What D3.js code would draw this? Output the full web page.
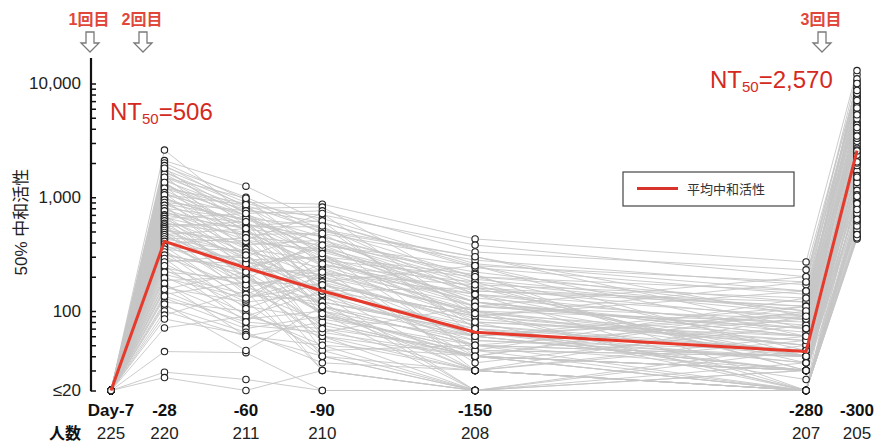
<!DOCTYPE html>
<html><head><meta charset="utf-8">
<script src="https://cdn.jsdelivr.net/npm/d3@7"></script>
<style>
body{margin:0;background:#fff;}
svg{display:block;font-family:"Liberation Sans",Arial,"Noto Sans CJK JP",sans-serif;}
</style></head>
<body><svg id="chart" width="875" height="444"></svg>
<script>
const days = [7, 28, 60, 90, 150, 280, 300];
const dayLabels = ["Day-7", "-28", "-60", "-90", "-150", "-280", "-300"];
const counts = [225, 220, 211, 210, 208, 207, 205];
const meanValues = [20, 410, 239, 150, 65, 44, 2570];
const yTickValues = [20, 100, 1000, 10000];
const yTickLabels = ["≤20", "100", "1,000", "10,000"];
const doseLabels = ["1回目", "2回目", "3回目"];
const nt50Labels = ["506", "2,570"];
// individual subjects: values at Day -28, -60, -90, -150, -280, -300 (Day-7 is ≤20 for all)
const subjects = [
[2600,700,450,200,120,9000],[2100,1250,600,250,180,12000],[1750,900,870,430,270,13000],
[1650,850,500,300,90,6000],[1550,400,350,120,60,4000],[1500,800,820,150,110,10500],
[1450,600,300,90,50,2500],[1400,750,700,380,200,8000],[1350,500,250,100,40,3000],
[1300,650,400,170,130,7000],[1250,350,200,60,30,1500],[1200,880,650,260,150,5500],
[1150,550,550,140,70,3500],[1100,300,180,80,55,2000],[1050,700,280,110,85,4500],
[1000,450,380,220,100,11000],[950,620,150,70,45,1200],[900,380,420,180,95,6500],
[860,520,220,95,60,2800],[820,280,300,130,75,3800],[780,480,160,50,30,900],
[750,420,330,150,120,7500],[720,600,190,75,40,1800],[690,250,120,65,35,1400],
[660,460,260,140,90,5000],[640,330,240,85,50,2200],[610,200,100,40,20,700],
[580,560,280,120,65,3200],[560,300,140,55,45,2600],[540,240,210,100,80,4200],
[520,380,130,60,30,1100],[500,180,170,90,55,2400],[480,320,90,45,20,600],
[460,220,230,110,70,3600],[440,400,110,50,40,1600],[420,150,80,40,30,800],
[400,270,190,80,60,2900],[380,190,120,70,35,1300],[360,340,150,30,20,500],
[340,130,200,100,50,2700],[320,210,70,45,40,1000],[300,160,110,60,30,1900],
[280,260,95,40,20,650],[260,120,140,75,45,2100],[240,170,60,30,20,450],
[230,110,85,50,40,1700],[210,140,120,65,30,2300],[200,95,50,20,20,550],
[185,200,75,40,30,1250],[170,85,100,55,40,3100],[160,120,40,20,20,480],
[150,75,65,40,30,950],[140,180,55,30,20,850],[130,70,90,45,40,1450],
[120,100,45,20,20,430],[110,65,35,30,20,750],[100,60,80,40,30,1150],
[92,150,30,20,20,520],[85,62,40,30,20,680],[71,90,60,40,30,900],
[44,43,20,20,20,600],[29,25,20,20,20,460],[26,20,30,20,20,440],
[1850,1000,520,200,150,8500],[1700,720,760,330,230,9800],[2000,950,480,280,170,7800],
[1600,680,340,160,110,5800],[1250,780,600,240,140,6800],[980,580,450,190,100,5200],
[880,640,360,160,85,4600],
[1900,820,380,120,40,6200],[1800,560,620,60,95,7400],[1500,980,300,210,20,3300],
[1350,420,720,90,150,9200],[1200,700,180,250,60,4400],[1100,520,460,40,110,8200],
[1050,860,250,180,30,2600],[950,300,520,300,70,5600],[900,760,140,20,50,1700],
[850,240,360,110,200,10000],[800,650,560,70,25,1900],[760,350,280,200,45,3700],
[700,530,100,30,90,4900],[680,190,420,140,20,1350],[650,720,320,45,130,6300],
[620,280,150,160,35,2200],[590,470,480,100,20,1050],[570,160,230,35,75,3900],
[550,610,90,60,110,7100],[530,230,380,250,40,2000],[510,410,60,20,30,560],
[490,140,260,120,60,4300],[470,530,170,90,180,8700],[450,260,300,30,20,620],
[430,330,45,50,85,3300],[410,170,210,170,30,1550],[390,440,120,20,45,2350],
[370,125,320,80,20,720],[350,290,65,110,70,5300],[330,105,180,40,100,6100],
[310,230,40,20,35,880],[290,90,150,95,20,1020],[270,310,110,30,55,2550],
[250,80,220,140,40,3450],[220,190,30,20,20,470],[195,130,170,60,90,4100],
[175,60,50,40,20,640],[155,220,95,20,30,1500],[135,80,70,30,60,2050],
[115,45,110,50,20,780]
];

const svg = d3.select("#chart");
const x = d3.scaleLinear().domain([7, 300]).range([111, 857]);
const y = d3.scaleLog().domain([20, 10000]).range([390.5, 83.5]);

// individual lines
const line = d3.line().x((d, i) => x(days[i])).y(d => y(d));
const series = subjects.map(s => [20].concat(s));
svg.append("g").selectAll("path").data(series).join("path")
  .attr("d", line).attr("fill", "none").attr("stroke", "#c6c6c6").attr("stroke-width", 0.9);

// dots
const pts = [];
series.forEach(s => s.forEach((v, i) => pts.push({d: days[i], v})));
svg.append("g").selectAll("circle").data(pts).join("circle")
  .attr("cx", d => x(d.d)).attr("cy", d => y(d.v)).attr("r", 3.2)
  .attr("fill", "#fff").attr("stroke", "#222").attr("stroke-width", 1.1);

// mean line
svg.append("path").datum(meanValues).attr("d", line)
  .attr("fill", "none").attr("stroke", "#e53a2c").attr("stroke-width", 3);

// y axis
const minor = [];
[10, 100, 1000].forEach(b => { for (let k = 1; k <= 9; k++) if (b * k >= 20) minor.push(b * k); });
minor.push(10000);
const yAxis = svg.append("g").attr("transform", "translate(91,0)")
  .call(d3.axisRight(y).tickValues(minor).tickSize(5).tickFormat(""));
yAxis.select(".domain").remove();
yAxis.selectAll(".tick line").attr("stroke", "#111").attr("stroke-width", 1.5);
svg.append("line").attr("x1", 91).attr("x2", 91).attr("y1", 58).attr("y2", 391.2)
  .attr("stroke", "#111").attr("stroke-width", 2.2);
svg.append("g").selectAll("text").data(yTickValues).join("text")
  .attr("x", 81).attr("y", d => y(d)).attr("dy", "0.35em").attr("text-anchor", "end")
  .attr("font-size", 17).attr("fill", "#222").text((d, i) => yTickLabels[i]);
svg.append("text").attr("transform", "translate(27,222) rotate(-90)")
  .attr("text-anchor", "middle").attr("font-size", 17).attr("fill", "#222")
  .text("50% 中和活性");

// x labels
svg.append("g").selectAll("text").data(days).join("text")
  .attr("x", d => x(d)).attr("y", 416).attr("text-anchor", "middle")
  .attr("font-size", 17).attr("font-weight", "bold").attr("fill", "#111")
  .text((d, i) => dayLabels[i]);
svg.append("text").attr("x", 65).attr("y", 439).attr("text-anchor", "middle")
  .attr("font-size", 16).attr("font-weight", "bold").attr("fill", "#111").text("人数");
svg.append("g").selectAll("text").data(days).join("text")
  .attr("x", d => x(d)).attr("y", 439).attr("text-anchor", "middle")
  .attr("font-size", 17).attr("fill", "#222").text((d, i) => counts[i]);

// dose labels and arrows
const doseX = [90, 143, 822];
doseLabels.forEach((t, i) => {
  const cx = doseX[i];
  svg.append("text").attr("x", cx - 1).attr("y", 25).attr("text-anchor", "middle")
    .attr("font-size", 16).attr("font-weight", "bold").attr("fill", "#e0473a").text(t);
  svg.append("path")
    .attr("d", `M${cx-4},32 L${cx+4},32 L${cx+4},43 L${cx+9},43 L${cx},52 L${cx-9},43 L${cx-4},43 Z`)
    .attr("fill", "#fff").attr("stroke", "#7a7a7a").attr("stroke-width", 1.3);
});

// NT50 annotations
function nt(xp, yp, val) {
  const t = svg.append("text").attr("x", xp).attr("y", yp).attr("fill", "#d42a22").attr("font-size", 24);
  t.append("tspan").text("NT");
  t.append("tspan").attr("font-size", 15).attr("dy", 4).text("50");
  t.append("tspan").attr("dy", -4).text("=" + val);
}
nt(110, 120, nt50Labels[0]);
nt(710, 88, nt50Labels[1]);

// legend
svg.append("rect").attr("x", 623).attr("y", 172).attr("width", 171).attr("height", 34)
  .attr("fill", "#fff").attr("stroke", "#444").attr("stroke-width", 1.2);
svg.append("line").attr("x1", 637).attr("x2", 678).attr("y1", 188.5).attr("y2", 188.5)
  .attr("stroke", "#d9342b").attr("stroke-width", 3);
svg.append("text").attr("x", 687).attr("y", 193.5).attr("font-size", 13).attr("fill", "#333").text("平均中和活性");
</script></body></html>
